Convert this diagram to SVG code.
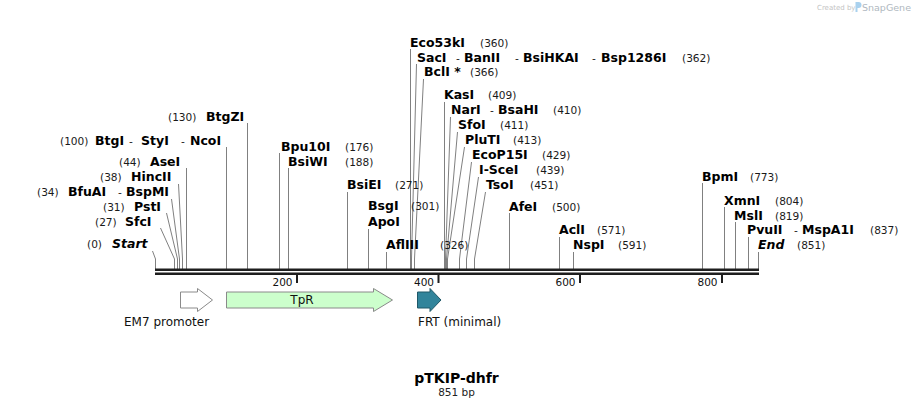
<svg xmlns="http://www.w3.org/2000/svg" width="914" height="408" viewBox="0 0 914 408">
<style>
text{font-family:"DejaVu Sans",Verdana,sans-serif;fill:#000}
.b{font-weight:bold;font-size:12.5px}
.n{font-size:10.6px;fill:#1a1a1a}
.i{font-style:italic}
.ln{stroke:#808080;stroke-width:1;fill:none}
.tk{font-size:10.5px;fill:#111}
.fl{font-size:12px;fill:#111}
</style>
<rect width="914" height="408" fill="#fff"/>
<g id="watermark">
<text x="817" y="10" style="font-size:7px;fill:#c4c4c4">Created by</text>
<path d="M855.5,2 h3 a3,3 0 0 1 0,6 h-1 v4 h-2 z" fill="#a9d1ee"/>
<text x="862" y="11" style="font-size:9.5px;fill:#b0b8c0">SnapGene</text>
</g>
<g id="connectors">
<polyline class="ln" points="155.5,269 155.5,259 152.5,251"/>
<polyline class="ln" points="174.5,269 174.5,259 160.5,228"/>
<polyline class="ln" points="177.5,269 177.5,259 166.5,213"/>
<polyline class="ln" points="179.5,269 179.5,259 171.5,199"/>
<polyline class="ln" points="182.5,269 182.5,259 178.5,184"/>
<line class="ln" x1="186.5" y1="269" x2="186.5" y2="168"/>
<line class="ln" x1="226.5" y1="269" x2="226.5" y2="147"/>
<line class="ln" x1="247.5" y1="269" x2="247.5" y2="123"/>
<line class="ln" x1="279.5" y1="269" x2="279.5" y2="153"/>
<line class="ln" x1="288.5" y1="269" x2="288.5" y2="168"/>
<line class="ln" x1="347.5" y1="269" x2="347.5" y2="192"/>
<line class="ln" x1="368.5" y1="269" x2="368.5" y2="229"/>
<line class="ln" x1="386.5" y1="269" x2="386.5" y2="252"/>
<line class="ln" x1="410.5" y1="269" x2="410.5" y2="49"/>
<polyline class="ln" points="416.5,64 411.5,259 411.5,269"/>
<polyline class="ln" points="423.5,79 414.5,259 414.5,269"/>
<line class="ln" x1="444.5" y1="269" x2="444.5" y2="102"/>
<polyline class="ln" points="450.5,117 445.5,259 445.5,269"/>
<polyline class="ln" points="457.5,132 446.5,259 446.5,269"/>
<polyline class="ln" points="464.5,147 447.5,259 447.5,269"/>
<polyline class="ln" points="471.5,162 459.5,259 459.5,269"/>
<polyline class="ln" points="478.5,177 466.5,259 466.5,269"/>
<polyline class="ln" points="485.5,192 474.5,259 474.5,269"/>
<line class="ln" x1="509.5" y1="269" x2="509.5" y2="213"/>
<line class="ln" x1="559.5" y1="269" x2="559.5" y2="237"/>
<line class="ln" x1="573.5" y1="269" x2="573.5" y2="252"/>
<line class="ln" x1="702.5" y1="269" x2="702.5" y2="183"/>
<line class="ln" x1="724.5" y1="269" x2="724.5" y2="207"/>
<line class="ln" x1="735.5" y1="269" x2="735.5" y2="222"/>
<line class="ln" x1="748.5" y1="269" x2="748.5" y2="237"/>
<line class="ln" x1="758.5" y1="269" x2="758.5" y2="252"/>
</g>
<g id="backbone">
<rect x="155" y="268.5" width="604" height="2.5" fill="#1e1e1e"/>
<rect x="155" y="272.5" width="604" height="2.5" fill="#1e1e1e"/>
<rect x="296" y="275" width="2" height="8" fill="#1e1e1e"/>
<rect x="437.5" y="275" width="2" height="8" fill="#1e1e1e"/>
<rect x="579" y="275" width="2" height="8" fill="#1e1e1e"/>
<rect x="721" y="275" width="2" height="8" fill="#1e1e1e"/>
<text class="tk" x="292.5" y="285.5" text-anchor="end">200</text>
<text class="tk" x="434" y="285.5" text-anchor="end">400</text>
<text class="tk" x="575.5" y="285.5" text-anchor="end">600</text>
<text class="tk" x="717.5" y="285.5" text-anchor="end">800</text>
</g>
<g id="site-start"><text y="248"><tspan class="n" x="87">(0)</tspan><tspan class="b i" x="112">Start</tspan></text></g>
<g id="site-sfci"><text y="226"><tspan class="n" x="95">(27)</tspan><tspan class="b" x="125">SfcI</tspan></text></g>
<g id="site-psti"><text y="211"><tspan class="n" x="103">(31)</tspan><tspan class="b" x="134">PstI</tspan></text></g>
<g id="site-bfuai"><text y="196"><tspan class="n" x="37">(34)</tspan><tspan class="b" x="68">BfuAI</tspan><tspan class="n" x="118">-</tspan><tspan class="b" x="126">BspMI</tspan></text></g>
<g id="site-hincii"><text y="181"><tspan class="n" x="100">(38)</tspan><tspan class="b" x="131">HincII</tspan></text></g>
<g id="site-asei"><text y="166"><tspan class="n" x="119">(44)</tspan><tspan class="b" x="150">AseI</tspan></text></g>
<g id="site-ncoi"><text y="145"><tspan class="n" x="60">(100)</tspan><tspan class="b" x="95">BtgI</tspan><tspan class="n" x="129">-</tspan><tspan class="b" x="141">StyI</tspan><tspan class="n" x="181">-</tspan><tspan class="b" x="190">NcoI</tspan></text></g>
<g id="site-btgzi"><text y="121"><tspan class="n" x="168">(130)</tspan><tspan class="b" x="206">BtgZI</tspan></text></g>
<g id="site-bpu10i"><text y="150.5"><tspan class="b" x="281">Bpu10I</tspan><tspan class="n" x="345">(176)</tspan></text></g>
<g id="site-bsiwi"><text y="166"><tspan class="b" x="288">BsiWI</tspan><tspan class="n" x="345">(188)</tspan></text></g>
<g id="site-bsiei"><text y="189"><tspan class="b" x="347">BsiEI</tspan><tspan class="n" x="395">(271)</tspan></text></g>
<g id="site-bsgi"><text y="210"><tspan class="b" x="368">BsgI</tspan><tspan class="n" x="411">(301)</tspan></text><text y="226"><tspan class="b" x="368">ApoI</tspan></text></g>
<g id="site-afliii"><text y="249"><tspan class="b" x="386">AflIII</tspan><tspan class="n" x="440">(326)</tspan></text></g>
<g id="site-eco53ki"><text y="46.5"><tspan class="b" x="410">Eco53kI</tspan><tspan class="n" x="480">(360)</tspan></text></g>
<g id="site-saci"><text y="61.5"><tspan class="b" x="417">SacI</tspan><tspan class="n" x="456">-</tspan><tspan class="b" x="464">BanII</tspan><tspan class="n" x="515">-</tspan><tspan class="b" x="523">BsiHKAI</tspan><tspan class="n" x="592">-</tspan><tspan class="b" x="601">Bsp1286I</tspan><tspan class="n" x="682">(362)</tspan></text></g>
<g id="site-bcli"><text y="76"><tspan class="b" x="424">BclI *</tspan><tspan class="n" x="470">(366)</tspan></text></g>
<g id="site-kasi"><text y="99"><tspan class="b" x="444">KasI</tspan><tspan class="n" x="488">(409)</tspan></text></g>
<g id="site-nari"><text y="114"><tspan class="b" x="451">NarI</tspan><tspan class="n" x="490">-</tspan><tspan class="b" x="498">BsaHI</tspan><tspan class="n" x="553">(410)</tspan></text></g>
<g id="site-sfoi"><text y="129"><tspan class="b" x="458">SfoI</tspan><tspan class="n" x="500">(411)</tspan></text></g>
<g id="site-pluti"><text y="144"><tspan class="b" x="465">PluTI</tspan><tspan class="n" x="513">(413)</tspan></text></g>
<g id="site-ecop15i"><text y="159"><tspan class="b" x="472">EcoP15I</tspan><tspan class="n" x="542">(429)</tspan></text></g>
<g id="site-iscei"><text y="174"><tspan class="b" x="479">I-SceI</tspan><tspan class="n" x="536">(439)</tspan></text></g>
<g id="site-tsoi"><text y="189"><tspan class="b" x="486">TsoI</tspan><tspan class="n" x="530">(451)</tspan></text></g>
<g id="site-afei"><text y="211"><tspan class="b" x="509">AfeI</tspan><tspan class="n" x="552">(500)</tspan></text></g>
<g id="site-acli"><text y="234"><tspan class="b" x="559">AclI</tspan><tspan class="n" x="597">(571)</tspan></text></g>
<g id="site-nspi"><text y="249"><tspan class="b" x="573">NspI</tspan><tspan class="n" x="618">(591)</tspan></text></g>
<g id="site-bpmi"><text y="181"><tspan class="b" x="702">BpmI</tspan><tspan class="n" x="750">(773)</tspan></text></g>
<g id="site-xmni"><text y="205"><tspan class="b" x="724">XmnI</tspan><tspan class="n" x="775">(804)</tspan></text></g>
<g id="site-msli"><text y="219.5"><tspan class="b" x="734">MslI</tspan><tspan class="n" x="775">(819)</tspan></text></g>
<g id="site-pvuii"><text y="234"><tspan class="b" x="747">PvuII</tspan><tspan class="n" x="794">-</tspan><tspan class="b" x="802">MspA1I</tspan><tspan class="n" x="870">(837)</tspan></text></g>
<g id="site-end"><text y="249"><tspan class="b i" x="758">End</tspan><tspan class="n" x="797">(851)</tspan></text></g>
<g id="feature-em7">
<polygon points="180.5,292 197.5,292 197.5,288.5 212.5,300 197.5,311.5 197.5,308 180.5,308" fill="#fff" stroke="#8a8a8a" stroke-width="1"/>
<text class="fl" x="124" y="326">EM7 promoter</text>
</g>
<g id="feature-tpr">
<polygon points="226.5,292 373.5,292 373.5,288.5 392.5,300 373.5,311.5 373.5,308 226.5,308" fill="#ccffcc" stroke="#8a8a8a" stroke-width="1"/>
<text class="fl" x="302" y="304" text-anchor="middle">TpR</text>
</g>
<g id="feature-frt">
<polygon points="417.5,292 430,292 430,288.5 441,300 430,311.5 430,308 417.5,308" fill="#31849b" stroke="#1f5868" stroke-width="1"/>
<text class="fl" x="418" y="326">FRT (minimal)</text>
</g>
<g id="title">
<text x="456.5" y="383" text-anchor="middle" style="font-weight:bold;font-size:14px">pTKIP-dhfr</text>
<text x="456.5" y="396" text-anchor="middle" style="font-size:10.5px;fill:#222">851 bp</text>
</g>
</svg>
